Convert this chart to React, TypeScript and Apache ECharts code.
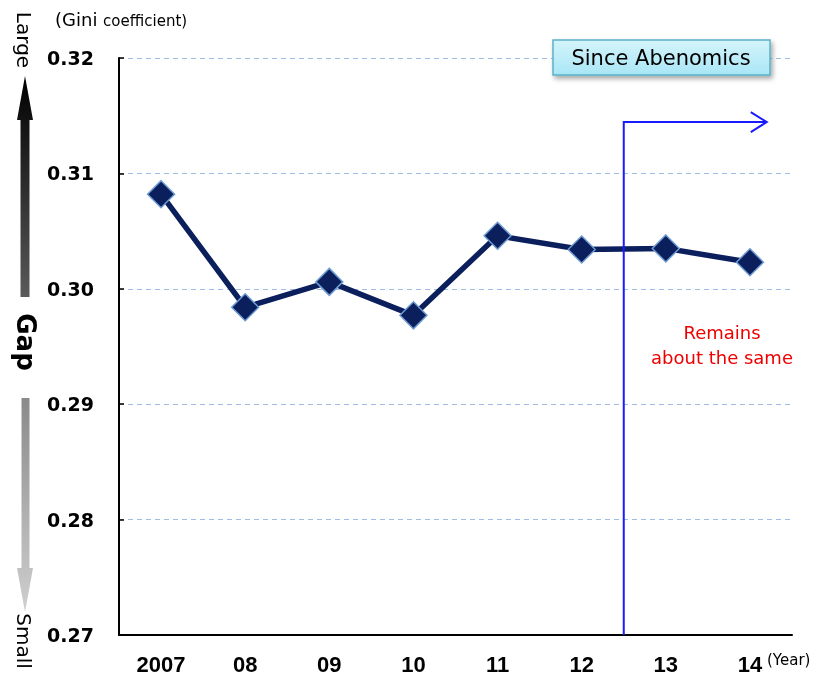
import React, { useEffect, useRef } from "react";
import * as echarts from "echarts";

const categories = ["2007", "08", "09", "10", "11", "12", "13", "14"];
const giniValues = [0.3082, 0.2984, 0.3006, 0.2977, 0.3046, 0.3034, 0.3035, 0.3023];
const yTicks = [0.27, 0.28, 0.29, 0.3, 0.31, 0.32];
const arrowTopValue = 0.31445;
const FONT = "'DejaVu Sans', sans-serif";
const XFONT = "'Liberation Sans', sans-serif";

export default function App() {
  const ref = useRef<HTMLDivElement>(null);
  useEffect(() => {
    if (!ref.current) return;
    const chart = echarts.init(ref.current, null, { renderer: "svg" });
    chart.setOption({
      animation: false,
      grid: { left: 119, right: 24, top: 58, bottom: 40 },
      xAxis: {
        type: "category",
        data: categories,
        boundaryGap: true,
        axisLine: { lineStyle: { color: "#000", width: 2 } },
        axisTick: { inside: true, length: 6, lineStyle: { color: "#000", width: 1.5 } },
        axisLabel: { color: "#000", fontSize: 22, fontWeight: "bold", fontFamily: XFONT, margin: 18 },
      },
      yAxis: {
        type: "value",
        min: 0.27,
        max: 0.32,
        interval: 0.01,
        axisLine: { show: true, lineStyle: { color: "#000", width: 2 } },
        axisTick: { show: true, inside: true, length: 5, lineStyle: { color: "#000", width: 1.5 } },
        axisLabel: {
          color: "#000",
          fontSize: 19,
          fontWeight: "bold",
          fontFamily: FONT,
          margin: 25,
          formatter: (v: number) => (yTicks.some((t) => Math.abs(t - v) < 1e-9) ? v.toFixed(2) : ""),
        },
        splitLine: { show: true, lineStyle: { color: "#9fbde4", type: [5, 4], width: 1 } },
      },
      series: [
        {
          type: "line",
          data: giniValues,
          lineStyle: { color: "#0b1f5c", width: 5.5 },
          symbol: "diamond",
          symbolSize: 27,
          itemStyle: { color: "#0b1f5c", borderColor: "#6e9bd2", borderWidth: 1.5 },
          z: 3,
        },
      ],
    });

    const xm = (chart.convertToPixel({ xAxisIndex: 0 }, 5) + chart.convertToPixel({ xAxisIndex: 0 }, 6)) / 2;
    const step = chart.convertToPixel({ xAxisIndex: 0 }, 7) - chart.convertToPixel({ xAxisIndex: 0 }, 6);
    const xEnd = chart.convertToPixel({ xAxisIndex: 0 }, 7) + step * 0.2;
    const yTop = chart.convertToPixel({ yAxisIndex: 0 }, arrowTopValue);
    const yBottom = chart.convertToPixel({ yAxisIndex: 0 }, 0.27);

    chart.setOption({
      graphic: [
        {
          type: "text",
          x: 55,
          y: 6,
          style: {
            text: "{a|(Gini }{b|coefficient)}",
            rich: {
              a: { fontSize: 18, lineHeight: 22, verticalAlign: "bottom", fontFamily: FONT, fill: "#000" },
              b: { fontSize: 15, lineHeight: 22, verticalAlign: "bottom", fontFamily: FONT, fill: "#000" },
            },
          },
        },
        {
          type: "text",
          x: 24,
          y: 40,
          rotation: -Math.PI / 2,
          style: { text: "Large", fontSize: 20, fontFamily: FONT, fill: "#000", align: "center", verticalAlign: "middle" },
        },
        {
          type: "polygon",
          shape: {
            points: [
              [25, 76],
              [33, 120],
              [29.5, 120],
              [29.5, 297],
              [20.5, 297],
              [20.5, 120],
              [17, 120],
            ],
          },
          style: {
            fill: new echarts.graphic.LinearGradient(0, 0, 0, 1, [
              { offset: 0, color: "#000000" },
              { offset: 1, color: "#5a5a5a" },
            ]),
          },
        },
        {
          type: "text",
          x: 26,
          y: 342,
          rotation: -Math.PI / 2,
          style: { text: "Gap", fontSize: 26, fontWeight: "bold", fontFamily: FONT, fill: "#000", align: "center", verticalAlign: "middle" },
        },
        {
          type: "polygon",
          shape: {
            points: [
              [21.5, 398],
              [29.5, 398],
              [29.5, 568],
              [33, 568],
              [25, 612],
              [17, 568],
              [21.5, 568],
            ],
          },
          style: {
            fill: new echarts.graphic.LinearGradient(0, 0, 0, 1, [
              { offset: 0, color: "#8a8a8a" },
              { offset: 1, color: "#cfcfcf" },
            ]),
          },
        },
        {
          type: "text",
          x: 24,
          y: 641,
          rotation: -Math.PI / 2,
          style: { text: "Small", fontSize: 20, fontFamily: FONT, fill: "#000", align: "center", verticalAlign: "middle" },
        },
        {
          type: "text",
          x: 767,
          y: 660,
          style: { text: "(Year)", fontSize: 15, fontFamily: FONT, fill: "#000", align: "left", verticalAlign: "middle" },
        },
        {
          type: "rect",
          shape: { x: 553, y: 40, width: 217, height: 35 },
          style: {
            fill: new echarts.graphic.LinearGradient(0, 0, 0, 1, [
              { offset: 0, color: "#d4f4fb" },
              { offset: 1, color: "#a9e6f6" },
            ]),
            stroke: "#58b3c8",
            lineWidth: 1.5,
            shadowBlur: 5,
            shadowColor: "rgba(0,0,0,0.35)",
            shadowOffsetX: 2,
            shadowOffsetY: 3,
          },
          z: 10,
        },
        {
          type: "text",
          x: 661,
          y: 57.5,
          style: { text: "Since Abenomics", fontSize: 21, fontFamily: FONT, fill: "#000", align: "center", verticalAlign: "middle" },
          z: 11,
        },
        {
          type: "polyline",
          shape: { points: [[xm, yBottom], [xm, yTop], [xEnd, yTop]] },
          style: { stroke: "#1a1aff", lineWidth: 2, fill: null },
          z: 5,
        },
        {
          type: "polyline",
          shape: { points: [[xEnd - 16, yTop - 10], [xEnd, yTop], [xEnd - 16, yTop + 10]] },
          style: { stroke: "#1a1aff", lineWidth: 2, fill: null },
          z: 5,
        },
        {
          type: "text",
          x: 722,
          y: 345,
          style: {
            text: "Remains\nabout the same",
            fontSize: 18,
            lineHeight: 25,
            fontFamily: FONT,
            fill: "#ee0000",
            align: "center",
            verticalAlign: "middle",
          },
        },
      ],
    });
    return () => chart.dispose();
  }, []);
  return <div ref={ref} style={{ position: "fixed", left: 0, top: 0, width: 816, height: 675 }} />;
}
